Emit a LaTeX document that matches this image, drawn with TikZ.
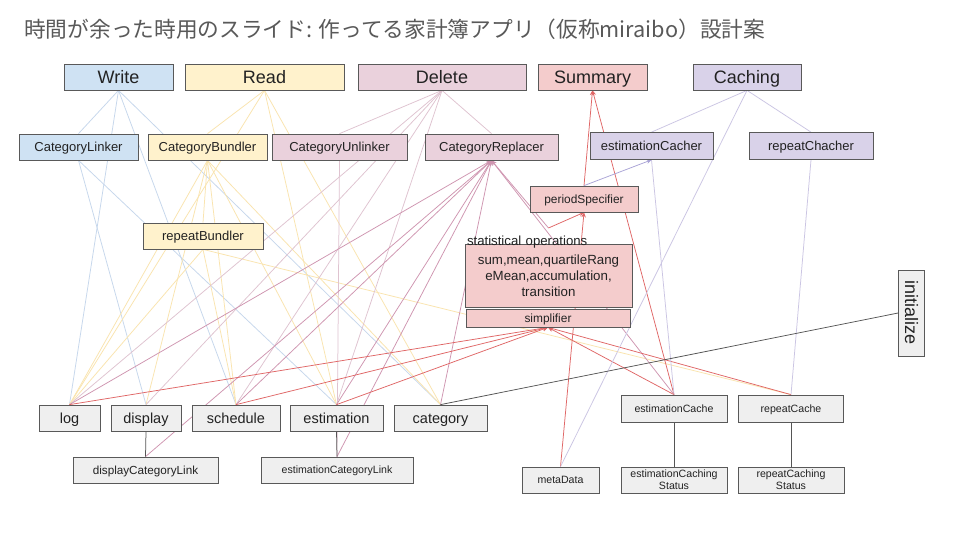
\documentclass[tikz,border=0pt]{standalone}
\usepackage{fontspec}
\usepackage{graphicx}
\setmainfont{Liberation Sans}
\newfontfamily\jpfont{Noto Sans CJK JP}
\usetikzlibrary{arrows.meta,backgrounds}

% box fills
\definecolor{wfill}{HTML}{CFE2F3}
\definecolor{rfill}{HTML}{FFF2CC}
\definecolor{dfill}{HTML}{EAD1DC}
\definecolor{sfill}{HTML}{F4CCCC}
\definecolor{cfill}{HTML}{D9D2E9}
\definecolor{gfill}{HTML}{EFEFEF}
\definecolor{edgegray}{HTML}{595959}
\definecolor{titlegray}{HTML}{595959}
\definecolor{ink}{HTML}{222222}
% connector colours
\definecolor{wcol}{HTML}{C6D7EC}
\definecolor{rcol}{HTML}{FAE4AE}
\definecolor{dcol}{HTML}{DFC3D0}
\definecolor{xcol}{HTML}{CF95B0}
\definecolor{scol}{HTML}{E06666}
\definecolor{ccol}{HTML}{CBC5E3}
\definecolor{pcol}{HTML}{A9A3D6}
\definecolor{kcol}{HTML}{555555}

\begin{document}
\begin{tikzpicture}[x=1pt,y=-1pt,
  card/.style={draw=edgegray, line width=0.75pt, inner sep=0pt, text=ink},
  opbig/.style={card, minimum height=26pt, text height=12.9pt, text depth=0pt, font=\fontsize{18}{20}\selectfont},
  opmid/.style={card, minimum height=26pt, text height=9.3pt, text depth=0pt, font=\fontsize{13}{15}\selectfont},
  opsmall/.style={card, minimum height=26pt, text height=8.5pt, text depth=0pt, font=\fontsize{11.9}{14}\selectfont},
  store/.style={card, fill=gfill, minimum height=26pt, text height=10.4pt, text depth=0pt, font=\fontsize{14.5}{16}\selectfont},
  small/.style={card, fill=gfill, minimum height=26pt, text height=7.6pt, text depth=0pt, font=\fontsize{10.6}{12.2}\selectfont},
  twoline/.style={card, align=center, fill=gfill, minimum height=26pt, font=\fontsize{10.6}{12.2}\selectfont},
  link/.style={line width=0.75pt},
  wline/.style={link, draw=wcol},
  rline/.style={link, draw=rcol},
  dline/.style={link, draw=dcol},
  xline/.style={link, draw=xcol, -{Stealth[length=5pt,width=4.5pt]}},
  sline/.style={link, draw=scol, -{Stealth[length=5pt,width=4.5pt]}},
  cline/.style={link, draw=ccol},
  pline/.style={link, draw=pcol, -{Stealth[length=5pt,width=4.5pt]}},
  kline/.style={link, draw=kcol}]

\useasboundingbox (0,0) rectangle (960,540);

% title
\node[anchor=west, inner sep=0pt, text=titlegray, font=\jpfont\fontsize{21.7}{26}\selectfont] (title) at (24,29)
  {時間が余った時用のスライド: 作ってる家計簿アプリ（仮称miraibo）設計案};

% operation groups
\node[opbig, fill=wfill, minimum width=109pt] (write)   at (118.5,77) {Write};
\node[opbig, fill=rfill, minimum width=159pt] (read)    at (264.5,77) {Read};
\node[opbig, fill=dfill, minimum width=168pt] (delete)  at (442,77)   {Delete};
\node[opbig, fill=sfill, minimum width=109pt] (summary) at (592.5,77) {Summary};
\node[opbig, fill=cfill, minimum width=108pt] (caching) at (747,77)   {Caching};

% operations
\node[opmid, fill=wfill, minimum width=119pt] (catlinker)   at (78.5,147)  {CategoryLinker};
\node[opmid, fill=rfill, minimum width=119pt] (catbundler)  at (207.5,147) {CategoryBundler};
\node[opmid, fill=dfill, minimum width=135pt] (catunlinker) at (339.5,147) {CategoryUnlinker};
\node[opmid, fill=dfill, minimum width=133pt] (catreplacer) at (491.5,147) {CategoryReplacer};
\node[opmid, fill=cfill, minimum width=123pt, minimum height=27pt] (estcacher) at (651.5,146) {estimationCacher};
\node[opmid, fill=cfill, minimum width=124pt, minimum height=27pt] (repchacher) at (811,146) {repeatChacher};
\node[opmid, fill=rfill, minimum width=120pt] (repbundler) at (203,236) {repeatBundler};
\node[opsmall, fill=sfill, minimum width=108pt] (period) at (584,199) {periodSpecifier};

% statistics block
\node[card, align=center, fill=sfill, minimum width=167pt, minimum height=63pt, font=\fontsize{13.3}{16}\selectfont] (stats) at (548.5,275.5)
  {sum,mean,quartileRang\\eMean,accumulation,\\transition};
\node[anchor=north, inner xsep=2pt, inner ysep=7.5pt, text width=163pt, align=left, text=ink,
  font=\fontsize{13.2}{15}\selectfont] (statlabel) at (548.5,228) {statistical operations};
\node[opsmall, fill=sfill, minimum width=164pt, minimum height=18pt] (simplifier) at (548,318) {simplifier};

\node[card, fill=gfill, minimum width=26pt, minimum height=86pt, font=\fontsize{18}{20}\selectfont] (init) at (911.5,313)
  {\rotatebox{-90}{initialize}};

% data stores
\node[store, minimum width=61pt] (log)        at (69.5,418)  {log};
\node[store, minimum width=70pt] (display)    at (146,418)   {display};
\node[store, minimum width=88pt] (schedule)   at (236,418)   {schedule};
\node[store, minimum width=93pt] (estimation) at (336.5,418) {estimation};
\node[store, minimum width=93pt] (category)   at (440.5,418) {category};
\node[small, minimum width=145pt, text height=8.4pt, font=\fontsize{11.7}{14}\selectfont] (dlink) at (145.5,470) {displayCategoryLink};
\node[small, minimum width=152pt] (elink) at (337,470) {estimationCategoryLink};
\node[small, minimum width=106pt, minimum height=27pt] (estcache) at (674,408.5) {estimationCache};
\node[small, minimum width=105pt, minimum height=27pt] (repcache) at (791,408.5) {repeatCache};
\node[small, minimum width=77pt] (metadata)   at (560.5,480) {metaData};
\node[twoline, minimum width=106pt] (estcstatus) at (674,480) {estimationCaching\\Status};
\node[twoline, minimum width=106pt] (repcstatus) at (791,480) {repeatCaching\\Status};

\begin{scope}[on background layer]
  \fill[white] (0,0) rectangle (960,540);

  % Write
  \draw[wline] (write.south) -- (catlinker.north);
  \draw[wline] (write.south) -- (log.north);
  \draw[wline] (write.south) -- (schedule.north);
  \draw[wline] (write.south) -- (category.north);
  \draw[wline] (catlinker.south) -- (display.north);
  \draw[wline] (catlinker.south) -- (estimation.north);

  % Read
  \draw[rline] (read.south) -- (catbundler.north);
  \draw[rline] (read.south) -- (log.north);
  \draw[rline] (read.south) -- (estimation.north);
  \draw[rline] (read.south) -- (category.north);
  \draw[rline] (catbundler.south) -- (repbundler.north);
  \draw[rline] (catbundler.south) -- (log.north);
  \draw[rline] (catbundler.south) -- (display.north);
  \draw[rline] (catbundler.south) -- (schedule.north);
  \draw[rline] (catbundler.south) -- (estimation.north);
  \draw[rline] (catbundler.south) -- (category.north);
  \draw[rline] (repbundler.south) -- (log.north);
  \draw[rline] (repbundler.south) -- (schedule.north);
  \draw[rline] (repbundler.south) -- (repcache.north);

  % Delete
  \draw[dline] (delete.south) -- (catunlinker.north);
  \draw[dline] (delete.south) -- (catreplacer.north);
  \draw[dline] (delete.south) -- (log.north);
  \draw[dline] (delete.south) -- (display.north);
  \draw[dline] (delete.south) -- (schedule.north);
  \draw[dline] (delete.south) -- (estimation.north);
  \draw[dline] (catunlinker.south) -- (elink.north);
  \draw[xline] (log.north) -- (catreplacer.south);
  \draw[xline] (schedule.north) -- (catreplacer.south);
  \draw[xline] (estimation.north) -- (catreplacer.south);
  \draw[xline] (category.north) -- (catreplacer.south);
  \draw[xline] (dlink.north) -- (catreplacer.south);
  \draw[xline] (elink.north) -- (catreplacer.south);
  \draw[xline] (estcache.north) -- (catreplacer.south);
  \draw[xline] (statlabel.north) -- (catreplacer.south);

  % Summary
  \draw[sline] (period.north) -- (summary.south);
  \draw[sline] (estcache.north) -- (summary.south);
  \draw[sline] (metadata.north) -- (period.south);
  \draw[sline] (statlabel.north) -- (period.south);
  \draw[sline] (log.north) -- (simplifier.south);
  \draw[sline] (schedule.north) -- (simplifier.south);
  \draw[sline] (estimation.north) -- (simplifier.south);
  \draw[sline] (estcache.north) -- (simplifier.south);
  \draw[sline] (repcache.north) -- (simplifier.south);

  % Caching
  \draw[cline] (caching.south) -- (estcacher.north);
  \draw[cline] (caching.south) -- (repchacher.north);
  \draw[cline] (caching.south) -- (metadata.north);
  \draw[cline] (estcacher.south) -- (estcache.north);
  \draw[cline] (repchacher.south) -- (repcache.north);
  \draw[pline] (period.north) -- (estcacher.south);

  % plain links
  \draw[kline] (display.south) -- (dlink.north);
  \draw[kline] (estimation.south) -- (elink.north);
  \draw[kline] (estcache.south) -- (estcstatus.north);
  \draw[kline] (repcache.south) -- (repcstatus.north);
  \draw[kline] (init.west) -- (category.north);
\end{scope}
\end{tikzpicture}
\end{document}
